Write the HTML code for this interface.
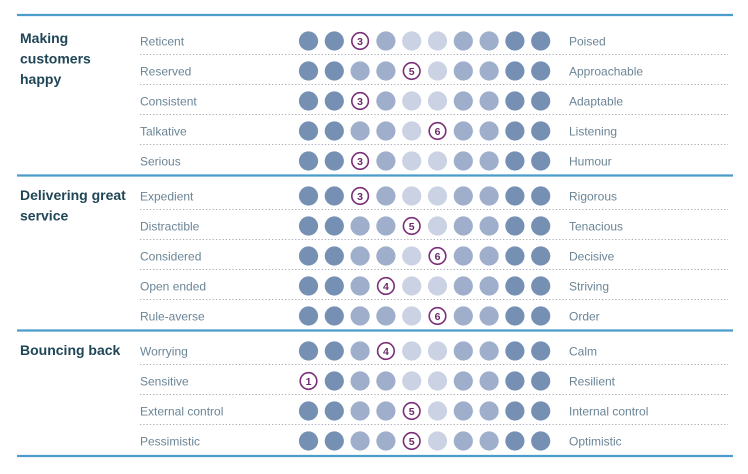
<!DOCTYPE html>
<html><head><meta charset="utf-8"><style>
body{margin:0;background:#fff;width:748px;height:469px;overflow:hidden;font-family:"Liberation Sans",sans-serif}
svg text{font-family:"Liberation Sans",sans-serif}
</style></head><body>
<svg id="chart" width="748" height="469" xmlns="http://www.w3.org/2000/svg"></svg>
<script>
const groups = ["Making|customers|happy", "Delivering great|service", "Bouncing back"];
const leftLabels = ["Reticent","Reserved","Consistent","Talkative","Serious","Expedient","Distractible","Considered","Open ended","Rule-averse","Worrying","Sensitive","External control","Pessimistic"];
const rightLabels = ["Poised","Approachable","Adaptable","Listening","Humour","Rigorous","Tenacious","Decisive","Striving","Order","Calm","Resilient","Internal control","Optimistic"];
const scores = [3,5,3,6,3,3,5,6,4,6,4,1,5,5];
const groupOf = [0,0,0,0,0,1,1,1,1,1,2,2,2,2];
const shades = ["#7690b4","#7690b4","#9eaecb","#9eaecb","#cad2e3","#cad2e3","#9eaecb","#9eaecb","#7690b4","#7690b4"];

const svg = document.getElementById('chart');
const NS = "http://www.w3.org/2000/svg";
function mk(tag, attrs){const e=document.createElementNS(NS,tag);for(const k in attrs)e.setAttribute(k,attrs[k]);svg.appendChild(e);return e;}
const rowY = i => 41 + i*30 + groupOf[i]*5;
const dotX = k => 308.5 + (k-1)*25.8;

for(let i=0;i<leftLabels.length;i++){
  const y=rowY(i);
  const first = i===0 || groupOf[i]!==groupOf[i-1];
  const last = i===leftLabels.length-1 || groupOf[i]!==groupOf[i+1];
  if(first){
    const off = i===0 ? 26 : 20.5;
    const l=mk('line',{x1:17,x2:733,y1:y-off,y2:y-off,stroke:'#4a9ccb','stroke-width':2.2});
    
    
    const g=groups[groupOf[i]].split('|');
    const base = i===0 ? y+2 : y+4;
    g.forEach((t,j)=>{
      const tx=mk('text',{x:20,y:base+j*20.5,'font-size':14,'font-weight':'bold',fill:'#1f4656'});
      tx.textContent=t;
      
      
    });
  }
  if(!last){
    const d=mk('line',{x1:140,x2:728,y1:y+13.5,y2:y+13.5,stroke:'#a8aeb4','stroke-width':1,'stroke-dasharray':'1.3 2'});
    
    
  } else if(i===leftLabels.length-1){
    const l=mk('line',{x1:17,x2:733,y1:y+15,y2:y+15,stroke:'#4a9ccb','stroke-width':2.2});
    
    
  }
  const lt=mk('text',{x:140,y:y+4.5,'font-size':12,fill:'#6b8596'});
  lt.textContent=leftLabels[i];
  
  
  const rt=mk('text',{x:569,y:y+4.5,'font-size':12,fill:'#6b8596'});
  rt.textContent=rightLabels[i];
  
  
  for(let k=1;k<=10;k++){
    if(k===scores[i]){
      const c=mk('circle',{cx:dotX(k),cy:y,r:8.3,fill:'#fff',stroke:'#7a2f78','stroke-width':1.6});
      
      
      const t=mk('text',{x:dotX(k),y:y+4,'font-size':10.5,'font-weight':'bold','text-anchor':'middle',fill:'#6a2a68'});
      t.textContent=String(k);
      
      
    } else {
      const c=mk('circle',{cx:dotX(k),cy:y,r:9.6,fill:shades[k-1]});
      
      
    }
  }
}
</script>
</body></html>
